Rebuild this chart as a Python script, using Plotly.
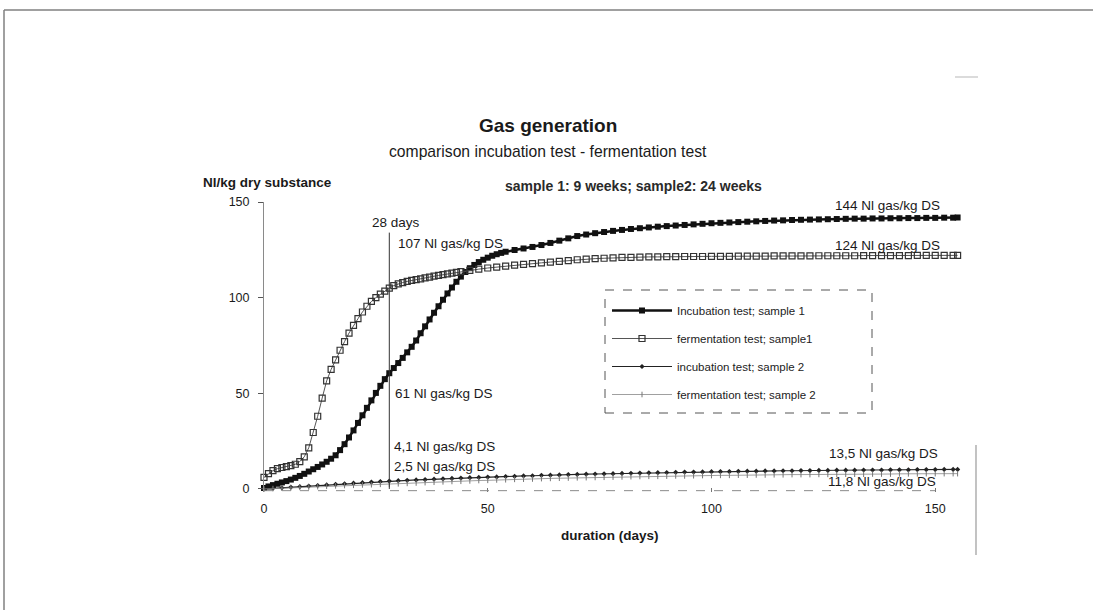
import plotly.graph_objects as go

# ---------------- data ----------------
days_inc1 = [0, 1, 2, 3, 4, 5, 6, 7, 8, 9, 10, 11, 12, 13, 14, 15, 16, 17, 18, 19,
             20, 21, 22, 23, 24, 25, 26, 27, 28, 29, 30, 31, 32, 33, 34, 35, 36, 37, 38, 39,
             40, 41, 42, 43, 44, 45, 46, 47, 48, 49, 50, 51, 52, 53, 54,
             56, 58, 60, 62, 64, 66, 68, 70, 72, 74, 76, 78, 80, 82, 84, 86, 88, 90, 92, 94,
             96, 98, 100, 102, 104, 106, 108, 110, 112, 114, 116, 118, 120, 122, 124, 126, 128,
             130, 132, 134, 136, 138, 140, 142, 144, 146, 148, 150, 152, 154, 155]
incubation_s1 = [0.5, 1.3, 2.0, 2.7, 3.4, 4.1, 4.9, 5.8, 6.8, 7.9,
                 9.1, 10.3, 11.5, 12.8, 14.2, 15.8, 17.6, 20.3, 23.4, 26.9,
                 30.6, 34.5, 38.5, 42.4, 46.3, 50.2, 53.9, 57.4, 60.5, 63.2,
                 65.8, 68.5, 71.4, 74.3, 77.6, 81.4, 85.0, 88.6, 92.1, 95.5,
                 98.9, 102.2, 105.3, 108.3, 111.0, 113.4, 115.4, 117.1, 118.6, 119.8,
                 120.9, 121.9, 122.7, 123.4, 124.0,
                 124.9, 125.7, 126.5, 127.5, 128.6, 129.8, 131.0, 132.2, 133.0, 133.7,
                 134.3, 134.9, 135.4, 135.9, 136.3, 136.7, 137.1, 137.4, 137.7, 138.0,
                 138.3, 138.6, 138.9, 139.1, 139.3, 139.5, 139.7, 139.9, 140.1, 140.3,
                 140.4, 140.6, 140.7, 140.8, 140.9, 141.0, 141.1, 141.2, 141.3, 141.3,
                 141.4, 141.4, 141.5, 141.5, 141.6, 141.6, 141.7, 141.7, 141.8, 141.8,
                 141.9]

days_ferm1 = [0, 1, 2, 3, 4, 5, 6, 7, 8, 9, 10, 11, 12, 13, 14, 15, 16, 17, 18, 19,
              20, 21, 22, 23, 24, 25, 26, 27, 28, 29, 30, 31, 32, 33, 34, 35, 36, 37, 38, 39,
              40, 41, 42, 43, 44,
              46, 48, 50, 52, 54, 56, 58, 60, 62, 64, 66, 68, 70, 72, 74, 76, 78, 80, 82, 84,
              86, 88, 90, 92, 94, 96, 98, 100, 102, 104, 106, 108, 110, 112, 114, 116, 118, 120,
              122, 124, 126, 128, 130, 132, 134, 136, 138, 140, 142, 144, 146, 148, 150, 152,
              154, 155]
fermentation_s1 = [6.0, 8.0, 9.6, 10.6, 11.2, 11.7, 12.2, 12.9, 14.3, 16.8,
                   21.5, 29.5, 38.0, 47.5, 56.5, 62.5, 67.5, 72.5, 77.0, 81.5,
                   85.5, 89.0, 92.5, 95.5, 98.0, 100.0, 101.8, 103.4, 105.0, 106.3,
                   107.2, 107.9, 108.5, 109.0, 109.4, 109.8, 110.3, 110.7, 111.2, 111.6,
                   112.0, 112.4, 112.8, 113.2, 113.6,
                   114.3, 114.9, 115.5, 116.0, 116.5, 117.0, 117.4, 117.8, 118.2, 118.6,
                   119.0, 119.4, 119.8, 120.1, 120.4, 120.6, 120.8, 121.0, 121.1, 121.2,
                   121.3, 121.3, 121.4, 121.4, 121.5, 121.5, 121.5, 121.6, 121.6, 121.6,
                   121.7, 121.7, 121.7, 121.7, 121.8, 121.8, 121.8, 121.8, 121.8, 121.9,
                   121.9, 121.9, 121.9, 121.9, 122.0, 122.0, 122.0, 122.0, 122.0, 122.0,
                   122.1, 122.1, 122.1, 122.1, 122.1,
                   122.1]

days_s2 = [0, 2, 4, 6, 8, 10, 12, 14, 16, 18, 20, 22, 24, 26, 28, 30, 32, 34, 36, 38,
           40, 42, 44, 46, 48, 50, 52, 54, 56, 58, 60, 62, 64, 66, 68, 70, 72, 74, 76, 78,
           80, 82, 84, 86, 88, 90, 92, 94, 96, 98, 100, 102, 104, 106, 108, 110, 112, 114,
           116, 118, 120, 122, 124, 126, 128, 130, 132, 134, 136, 138, 140, 142, 144, 146,
           148, 150, 152, 154, 155]
incubation_s2 = [0.0, 0.3, 0.6, 0.9, 1.2, 1.5, 1.8, 2.1, 2.4, 2.7,
                 3.0, 3.3, 3.6, 3.9, 4.1, 4.3, 4.5, 4.7, 4.9, 5.1,
                 5.3, 5.5, 5.7, 5.9, 6.0, 6.2, 6.3, 6.5, 6.6, 6.8,
                 6.9, 7.1, 7.2, 7.3, 7.5, 7.6, 7.7, 7.8, 7.9, 8.0,
                 8.1, 8.2, 8.3, 8.4, 8.5, 8.6, 8.7, 8.8, 8.8, 8.9,
                 9.0, 9.1, 9.1, 9.2, 9.3, 9.3, 9.4, 9.4, 9.5, 9.5,
                 9.6, 9.6, 9.7, 9.7, 9.8, 9.8, 9.8, 9.9, 9.9, 9.9,
                 10.0, 10.0, 10.0, 10.1, 10.1, 10.1, 10.2, 10.2,
                 10.2]
fermentation_s2 = [0.0, 0.2, 0.4, 0.6, 0.8, 1.0, 1.2, 1.4, 1.6, 1.8,
                   1.9, 2.1, 2.2, 2.4, 2.5, 2.7, 2.9, 3.1, 3.3, 3.5,
                   3.7, 3.9, 4.0, 4.2, 4.4, 4.5, 4.7, 4.8, 5.0, 5.1,
                   5.2, 5.4, 5.5, 5.6, 5.7, 5.8, 5.9, 6.0, 6.1, 6.2,
                   6.3, 6.4, 6.5, 6.6, 6.6, 6.7, 6.8, 6.8, 6.9, 7.0,
                   7.0, 7.1, 7.1, 7.2, 7.2, 7.3, 7.3, 7.4, 7.4, 7.5,
                   7.5, 7.5, 7.6, 7.6, 7.6, 7.7, 7.7, 7.7, 7.8, 7.8,
                   7.8, 7.9, 7.9, 7.9, 8.0, 8.0, 8.0, 8.0,
                   8.0]

series_names = ["Incubation test; sample 1", "fermentation test; sample1",
                "incubation test; sample 2", "fermentation test; sample 2"]
x_ticks = [0, 50, 100, 150]
y_ticks = [0, 50, 100, 150]
marker_day = 28
marker_top = 134
value_labels = ["107 Nl gas/kg DS", "61 Nl gas/kg DS", "4,1 Nl gas/kg DS", "2,5 Nl gas/kg DS",
                "144 Nl gas/kg DS", "124 Nl gas/kg DS", "13,5 Nl gas/kg DS", "11,8 Nl gas/kg DS"]

# ---------------- layout geometry ----------------
W, H = 1093, 610
L, R, T, B = 264, 126, 202, 118
X_RANGE = [0, 157.1]
Y_RANGE = [-1.6, 150]
PW = W - L - R
PH = H - T - B
FONT = "Liberation Sans, Arial, sans-serif"
INK = "#1a1a1a"


def px_(px):
    return (px - L) / PW


def py_(py):
    return (H - B - py) / PH


fig = go.Figure()

fig.add_trace(go.Scatter(
    x=days_inc1, y=incubation_s1, name=series_names[0], mode="lines+markers",
    line=dict(color="#111111", width=2.5),
    marker=dict(symbol="square", size=6, color="#111111", line=dict(width=0)),
    cliponaxis=False, legendgroup="a"))
fig.add_trace(go.Scatter(
    x=days_ferm1, y=fermentation_s1, name=series_names[1], mode="lines+markers",
    line=dict(color="#555555", width=1),
    marker=dict(symbol="square-open", size=6, color="#333333", line=dict(width=1.2)),
    cliponaxis=False, legendgroup="b"))
fig.add_trace(go.Scatter(
    x=days_s2, y=incubation_s2, name=series_names[2], mode="lines+markers",
    line=dict(color="#222222", width=1.2),
    marker=dict(symbol="diamond", size=4, color="#222222"),
    cliponaxis=False, legendgroup="c"))
fig.add_trace(go.Scatter(
    x=days_s2, y=fermentation_s2, name=series_names[3], mode="lines+markers",
    line=dict(color="#888888", width=0.8),
    marker=dict(symbol="line-ns-open", size=4, color="#777777", line=dict(width=1, color="#777777")),
    cliponaxis=False, legendgroup="d"))

shapes = [
    # outer scan frame
    dict(type="line", xref="paper", yref="paper", x0=px_(4), x1=px_(1093), y0=py_(10), y1=py_(10),
         line=dict(color="#808080", width=1.5)),
    dict(type="line", xref="paper", yref="paper", x0=px_(4), x1=px_(4), y0=py_(10), y1=py_(610),
         line=dict(color="#808080", width=1.5)),
    dict(type="line", xref="paper", yref="paper", x0=px_(955), x1=px_(978), y0=py_(77), y1=py_(77),
         line=dict(color="#cfcfcf", width=1.5)),
    dict(type="line", xref="paper", yref="paper", x0=px_(976), x1=px_(976), y0=py_(445), y1=py_(555),
         line=dict(color="#9a9a9a", width=1.2)),
    # dashed x axis line
    dict(type="line", xref="x", yref="y", x0=0, x1=150, y0=-0.9, y1=-0.9,
         line=dict(color="#8a8a8a", width=1, dash="dash")),
    # 28-day marker line
    dict(type="line", xref="x", yref="y", x0=marker_day, x1=marker_day, y0=0, y1=marker_top,
         line=dict(color="#333333", width=1)),
    # legend box
    dict(type="rect", xref="paper", yref="paper", x0=px_(605), x1=px_(872), y0=py_(413), y1=py_(290),
         line=dict(color="#555555", width=1, dash="dash"), fillcolor="rgba(255,255,255,0)", layer="above"),
]

ann = []


def text(s, px, py, size=11, bold=False, anchor="left", color=INK):
    ann.append(dict(x=px_(px), y=py_(py), xref="paper", yref="paper",
                    text=("<b>%s</b>" % s) if bold else s,
                    showarrow=False, xanchor=anchor, yanchor="middle",
                    font=dict(family=FONT, size=size, color=color)))


text("Gas generation", 548, 126, size=19, bold=True, anchor="center")
text("comparison incubation test - fermentation test", 548, 151, size=15.7, anchor="center")
text("sample 1: 9 weeks; sample2: 24 weeks", 633, 186, size=14, bold=True, anchor="center", color="#2a2a2a")
text("Nl/kg dry substance", 267, 182, size=13.5, bold=True, anchor="center")
text("duration (days)", 610, 535, size=13.5, bold=True, anchor="center")
text("%d days" % marker_day, 396, 222, size=13.5, anchor="center")
text(value_labels[0], 396, 243, size=13.5)
text(value_labels[1], 393, 393, size=13.5)
text(value_labels[2], 392, 446, size=13.5)
text(value_labels[3], 392, 466, size=13.5)
text(value_labels[4], 942, 205, size=13.5, anchor="right")
text(value_labels[5], 942, 245, size=13.5, anchor="right")
text(value_labels[6], 940, 453, size=13.5, anchor="right")
text(value_labels[7], 938, 481, size=13.5, anchor="right")

fig.update_layout(
    width=W, height=H,
    margin=dict(l=L, r=R, t=T, b=B, pad=0),
    paper_bgcolor="white", plot_bgcolor="white",
    font=dict(family=FONT, size=11, color=INK),
    showlegend=True,
    legend=dict(x=px_(607), y=py_(296), xanchor="left", yanchor="top",
                bgcolor="rgba(0,0,0,0)", borderwidth=0, itemwidth=60,
                tracegroupgap=9, traceorder="grouped",
                font=dict(family=FONT, size=11.5, color="#222")),
    shapes=shapes, annotations=ann,
    xaxis=dict(range=X_RANGE, tickvals=x_ticks, showgrid=False, zeroline=False, showline=False,
               ticks="inside", ticklen=4, tickcolor="#777", ticklabelstandoff=7,
               tickfont=dict(family=FONT, size=12.5, color=INK)),
    yaxis=dict(range=Y_RANGE, tickvals=y_ticks, showgrid=False, zeroline=False, showline=True,
               linecolor="#8a8a8a", linewidth=1, ticks="outside", ticklen=5, tickcolor="#555",
               ticklabelstandoff=6, tickfont=dict(family=FONT, size=12.5, color=INK)),
)

fig.write_html("out.html")
